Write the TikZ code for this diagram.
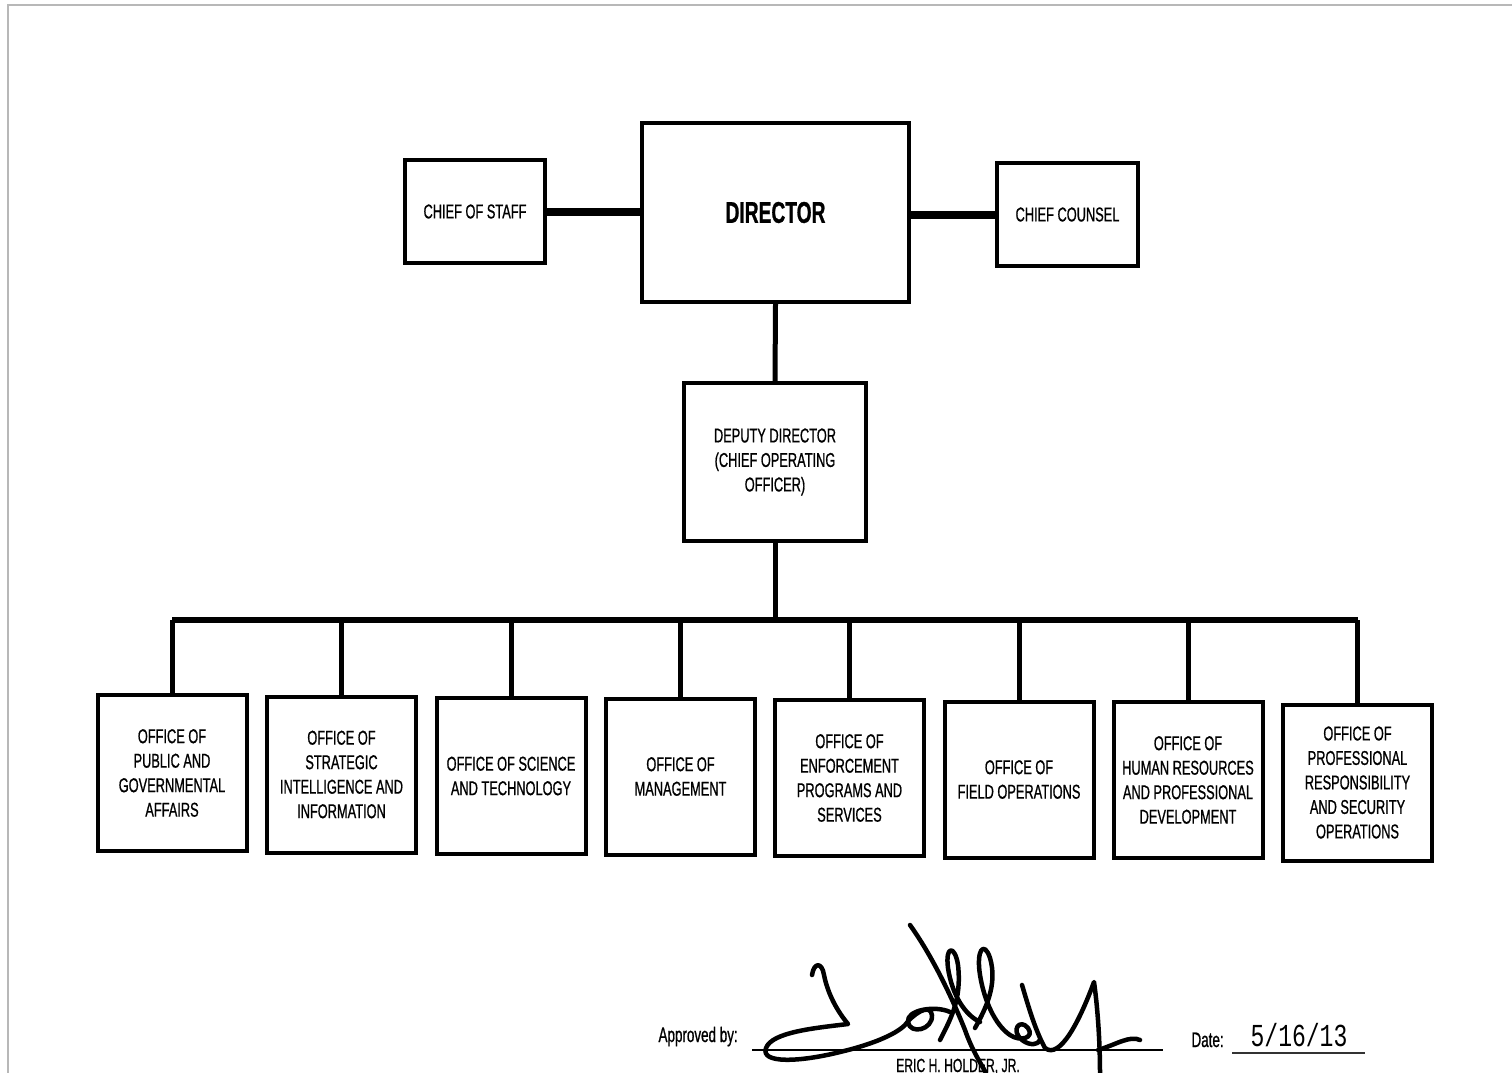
\documentclass[tikz,border=0pt]{standalone}
\usepackage{fontspec}
\setmainfont{Liberation Sans}[FakeStretch=0.64,FakeBold=0.8]
\newfontfamily\datefont{Liberation Mono}[FakeStretch=0.72]
\begin{document}
\begin{tikzpicture}[x=1pt,y=-1pt,
  box/.style={draw, line width=4pt, inner sep=0pt, align=center,
    font=\fontsize{20}{24.5}\selectfont},
  office/.style={box, minimum width=149pt, minimum height=156pt},
  thickconn/.style={line width=8pt},
  conn/.style={line width=5pt},
  busline/.style={line width=6pt},
  sig/.style={line width=4.5pt, line cap=round, line join=round},
  frameline/.style={draw=black!28, line width=1.5pt}]
\useasboundingbox (0,0) rectangle (1512,1073);
\fill[white] (0,0) rectangle (1512,1073);
\draw[frameline] (8,1073) -- (8,5) -- (1512,5);

% top level
\node[box, minimum width=140pt, minimum height=103pt] (cos) at (475,211.5) {CHIEF OF STAFF};
\node[box, minimum width=267pt, minimum height=179pt, font=\bfseries\fontsize{30}{30}\selectfont] (dir) at (775.5,212.5) {DIRECTOR};
\node[box, minimum width=141pt, minimum height=103pt] (cc) at (1067.5,214.5) {CHIEF COUNSEL};
\node[box, minimum width=182pt, minimum height=158pt] (dep) at (775,462) {DEPUTY DIRECTOR\\(CHIEF OPERATING\\OFFICER)};

% offices
\node[office] (o1) at (172,773) {OFFICE OF\\PUBLIC AND\\GOVERNMENTAL\\AFFAIRS};
\node[office] (o2) at (341.5,774.5) {OFFICE OF\\STRATEGIC\\INTELLIGENCE AND\\INFORMATION};
\node[office] (o3) at (511,776) {OFFICE OF SCIENCE\\AND TECHNOLOGY};
\node[office] (o4) at (680.5,776.5) {OFFICE OF\\MANAGEMENT};
\node[office] (o5) at (849.5,778) {OFFICE OF\\ENFORCEMENT\\PROGRAMS AND\\SERVICES};
\node[office] (o6) at (1019,779.5) {OFFICE OF\\FIELD OPERATIONS};
\node[office] (o7) at (1188,780) {OFFICE OF\\HUMAN RESOURCES\\AND PROFESSIONAL\\DEVELOPMENT};
\node[office] (o8) at (1357.5,782.5) {OFFICE OF\\PROFESSIONAL\\RESPONSIBILITY\\AND SECURITY\\OPERATIONS};

% connectors
\draw[thickconn] (cos.east) -- (cos.east -| dir.west);
\draw[thickconn] (cc.west -| dir.east) -- (cc.west);
\draw[conn] (dir.south) -- (dep.north);
\coordinate (bus) at (775,620);
\draw[conn] (dep.south) -- (bus);
\draw[busline] (o1.north |- bus) -- (o8.north |- bus);
\foreach \o in {o1,o2,o3,o4,o5,o6,o7,o8}{
  \draw[conn] (\o.north |- bus) -- (\o.north);
}

% approval
\node[anchor=base west, font=\fontsize{21}{21}\selectfont] (appr) at (655,1042) {Approved by:};
\coordinate (sigL) at (752,1050);
\coordinate (sigR) at (1163,1050);
\draw[line width=2pt] (sigL) -- (sigR);
\node[anchor=base, font=\fontsize{19}{19}\selectfont] (name) at (958,1072) {ERIC H. HOLDER, JR.};
\node[anchor=base west, font=\fontsize{21}{21}\selectfont] (datelbl) at (1188,1047) {Date:};
\coordinate (dateL) at (1232,1053);
\coordinate (dateR) at (1365,1053);
\draw[line width=2pt, black!80] (dateL) -- (dateR);
\node[anchor=base, font=\datefont\fontsize{32}{32}\selectfont] (dateval) at (1299,1046) {5/16/13};

% signature
\draw[sig] (812,975) .. controls (814,962) and (822,962) .. (824,975)
  .. controls (828,995) and (838,1012) .. (848,1024)
  .. controls (815,1028) and (772,1032) .. (766,1048)
  .. controls (760,1064) and (800,1062) .. (840,1052)
  .. controls (870,1045) and (895,1035) .. (905,1025)
  .. controls (912,1015) and (930,1002) .. (932,1015)
  .. controls (933,1030) and (910,1035) .. (908,1022)
  .. controls (906,1010) and (935,1005) .. (950,1012);
\draw[sig] (910,925) .. controls (935,960) and (955,1005) .. (965,1030)
  .. controls (972,1050) and (980,1062) .. (986,1073);
\draw[sig] (940,1040) .. controls (950,1020) and (962,1000) .. (958,965)
  .. controls (955,945) and (945,945) .. (948,968)
  .. controls (952,995) and (965,1015) .. (980,1022);
\draw[sig] (975,1028) .. controls (985,1010) and (998,985) .. (990,958)
  .. controls (984,940) and (976,950) .. (980,975)
  .. controls (984,1000) and (995,1025) .. (1010,1035)
  .. controls (1020,1042) and (1035,1038) .. (1028,1028)
  .. controls (1020,1018) and (1010,1030) .. (1022,1040)
  .. controls (1030,1046) and (1038,1045) .. (1040,1040);
\draw[sig] (1022,985) .. controls (1028,1005) and (1035,1030) .. (1045,1048)
  .. controls (1060,1060) and (1080,1020) .. (1094,982)
  .. controls (1098,1010) and (1100,1045) .. (1100,1073);
\draw[sig] (1098,1050) .. controls (1115,1045) and (1130,1035) .. (1140,1040);
\end{tikzpicture}
\end{document}
